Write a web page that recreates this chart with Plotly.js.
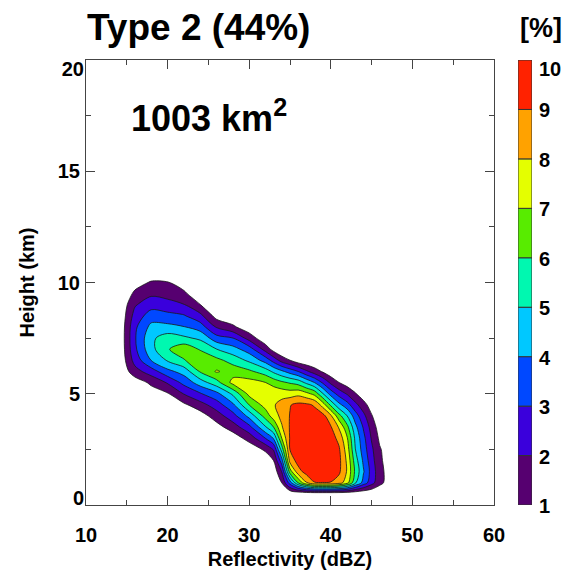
<!DOCTYPE html>
<html><head><meta charset="utf-8">
<script src="https://cdn.plot.ly/plotly-3.0.1.min.js"></script>
<style>html,body{margin:0;padding:0;background:#fff;}#chart{width:564px;height:576px;}</style>
</head><body><div id="chart"></div>
<script>
// Reflectivity bins (dBZ) and heights (km)
const dbz = [14,16,18,20,22,24,26,28,30,32,33,34,35,36,37,38,39,40,41,42,43,44,45,46,48];
const heightKm = [0.5,1,1.5,2,2.5,3,3.5,4,4.5,5,5.5,6,6.5,7,7.5,8,8.5,9,9.5,10,10.5];
// frequency (%) profiles, one per reflectivity bin, bottom (0.5 km) to top (10.5 km)
const f14 = [0,0,0,0,0,0,0,0,0,0,0,0,0,0,0,0,0,0,0,0,0];
const f16 = [0,0,0,0,0,0,0,0,0,0,0.4,1.6,2.4,2.8,2.9,2.8,2.4,1.9,1.2,0.6,0];
const f18 = [0,0,0,0,0,0,0,0,0,0.5,1.2,2.5,4.02,4.7,4.8,4.3,3.5,2.6,1.8,1.1,0.3];
const f20 = [0,0,0,0,0,0,0,0,0.2,0.9,2.1,3.7,5.1,5.9,5.5,4.3,3.3,2.4,1.6,1.05,0.4];
const f22 = [0,0,0,0,0,0,0,0.1,0.8,2.05,3.3,4.4,5.9,6.7,5.2,4.05,3.1,2.05,1.2,0.5,0];
const f24 = [0,0,0,0,0,0,0,0.5,1.6,2.9,4.5,6.1,6.9,5.9,4.8,3.5,2.3,1.02,0.2,0,0];
const f26 = [0,0,0,0,0,0,0.6,1.5,2.5,3.7,5.6,7.1,6.3,5.02,3.4,1.9,0.6,0,0,0,0];
const f28 = [0,0,0,0,0,0.4,1.5,2.6,3.8,5.2,7.3,6.6,5.6,4.4,3.02,1.2,0.2,0,0,0,0];
const f30 = [0,0,0,0,0.3,1.4,2.7,4.3,6.02,7.3,7.4,6.2,4.8,3.5,1.6,0.3,0,0,0,0,0];
const f32 = [0,0,0,0.3,1.2,3.02,4.9,6.4,7.4,7.8,7.02,5.5,3.6,1.6,0.2,0,0,0,0,0,0];
const f33 = [0,0,0.3,1.02,2.1,4.1,6.02,7.5,7.9,7.7,6.6,4.8,2.6,0.6,0,0,0,0,0,0,0];
const f34 = [0,1.02,2.05,3.6,5.5,7.02,7.9,8.3,8.4,7.6,6.2,4.2,1.6,0,0,0,0,0,0,0,0];
const f35 = [0,3.5,6.5,8.4,9.05,9.1,9.1,9.05,8.95,7.5,5.9,3.6,1.02,0,0,0,0,0,0,0,0];
const f36 = [0,6.02,8.6,9.4,9.6,9.7,9.7,9.6,9.25,7.7,5.6,3.02,0.4,0,0,0,0,0,0,0,0];
const f37 = [0,7.9,9.4,9.7,9.8,9.8,9.7,9.6,9.2,7.3,4.8,2.2,0.15,0,0,0,0,0,0,0,0];
const f38 = [0,8.95,9.7,9.8,9.8,9.8,9.7,9.4,8.9,6.7,4.02,1.5,0,0,0,0,0,0,0,0,0];
const f39 = [0,8.98,9.7,9.8,9.8,9.7,9.6,9.4,7.6,5.1,2.9,0.9,0,0,0,0,0,0,0,0,0];
const f40 = [0,8.95,9.6,9.7,9.7,9.5,9.1,8.2,5.8,3.6,1.8,0.3,0,0,0,0,0,0,0,0,0];
const f41 = [0,8.5,9.2,9.3,9.15,8.7,7.9,6.4,4.3,2.6,1.02,0.1,0,0,0,0,0,0,0,0,0];
const f42 = [0,7.4,7.9,7.8,7.5,7.1,6.3,5.02,3.4,1.9,0.5,0,0,0,0,0,0,0,0,0,0];
const f43 = [0,5.2,5.8,5.5,5.02,4.8,4.3,3.5,2.3,1.1,0.1,0,0,0,0,0,0,0,0,0,0];
const f44 = [0,3.6,4.1,3.8,3.5,3.3,2.9,2.3,1.4,0.4,0,0,0,0,0,0,0,0,0,0,0];
const f45 = [0,2.4,2.6,2.4,2.2,1.9,1.6,1.1,0.5,0,0,0,0,0,0,0,0,0,0,0,0];
const f46 = [0,1.3,1.35,1.2,1.1,0.8,0.5,0.15,0,0,0,0,0,0,0,0,0,0,0,0,0];
const f48 = [0,0,0,0,0,0,0,0,0,0,0,0,0,0,0,0,0,0,0,0,0];
// contour levels (%) and band colours
const levels = [1,2,3,4,5,6,7,8,9,10];
const bandColors = ['#560070','#3a00dc','#0048ff','#00c8ff','#00f8b0','#58ec00','#e4ff00','#ffa200','#ff2200'];
const xTicks = [10,20,30,40,50,60];
const yTicks = [5,10,15];
const yTop = [20];
const yBottom = [0];
const cbTicks = [1,2,3,4,5,6,7,8,9];
const cbTop = [10];

const cols = [f14,f16,f18,f20,f22,f24,f26,f28,f30,f32,f33,f34,f35,f36,f37,f38,f39,f40,f41,f42,f43,f44,f45,f46,f48];
const z = heightKm.map((h, i) => cols.map(c => c[i]));

const FONT = 'Liberation Sans, Arial, Helvetica, sans-serif';
const bold = (s) => ({family: FONT, size: s, color: '#000', weight: 700});

const L = 86, R = 30, T = 60, B = 71, W = 564, H = 576;
const pw = W - L - R;
const mainRight = (494 - L) / pw;
const cb0 = (518 - L) / pw, cb1 = (532 - L) / pw;

const colorscale = [[0, '#ffffff']].concat(bandColors.map((c, i) => [(i + 1) / 9, c]));

const traces = [
  {
    type: 'contour', x: dbz, y: heightKm, z: z,
    contours: {start: levels[0], end: levels[8], size: 1, coloring: 'fill', showlines: true},
    colorscale: colorscale, showscale: false,
    line: {color: '#1a1a1a', width: 0.8, smoothing: 0.9},
    hoverinfo: 'skip'
  },
  {
    type: 'bar', xaxis: 'x2', yaxis: 'y2',
    x: levels.slice(0, 9).map(() => 0),
    y: levels.slice(0, 9).map((v, i) => levels[i + 1] - v),
    base: levels.slice(0, 9),
    width: 1,
    marker: {color: bandColors, line: {color: '#333', width: 1}},
    hoverinfo: 'skip', showlegend: false
  },
  {type: 'scatter', x: [], y: [], xaxis: 'x', yaxis: 'y3', hoverinfo: 'skip', showlegend: false},
  {type: 'scatter', x: [], y: [], xaxis: 'x', yaxis: 'y4', hoverinfo: 'skip', showlegend: false},
  {type: 'scatter', x: [], y: [], xaxis: 'x2', yaxis: 'y5', hoverinfo: 'skip', showlegend: false}
];

const axLine = {showline: true, linecolor: '#444', linewidth: 1, showgrid: false, zeroline: false};
const labelAxis = (extra) => Object.assign({ticks: '', showline: false, showgrid: false, zeroline: false,
  tickmode: 'array', tickfont: bold(20)}, extra);

const layout = {
  width: W, height: H,
  margin: {l: L, r: R, t: T, b: B, pad: 0},
  paper_bgcolor: '#fff', plot_bgcolor: '#fff',
  showlegend: false, barmode: 'overlay',
  title: {text: 'Type 2 (44%)', font: bold(37), x: 87 / W, xanchor: 'left', xref: 'container',
          y: 1 - 27 / H, yanchor: 'middle', yref: 'container'},
  xaxis: Object.assign({}, axLine, {
    domain: [0, mainRight], range: [10, 60], tickmode: 'array', tickvals: xTicks,
    ticks: 'inside', ticklen: 9, tickwidth: 1, tickcolor: '#444', mirror: 'ticks',
    minor: {dtick: 5, ticks: 'inside', ticklen: 5, tickcolor: '#444'},
    tickfont: bold(20), ticklabelstandoff: 12,
    title: {text: 'Reflectivity (dBZ)', font: bold(20), standoff: 6}
  }),
  yaxis: Object.assign({}, axLine, {
    domain: [0, 1], range: [0, 20], tickmode: 'array', tickvals: yTicks,
    ticks: 'inside', ticklen: 9, tickwidth: 1, tickcolor: '#444', mirror: 'ticks',
    minor: {dtick: 2.5, ticks: 'inside', ticklen: 5, tickcolor: '#444'},
    tickfont: bold(20), ticklabelstandoff: 1,
    title: {text: 'Height (km)', font: bold(20), standoff: 17}
  }),
  yaxis3: labelAxis({overlaying: 'y', anchor: 'x', side: 'left', range: [0, 20], tickvals: yTop,
    ticklabelstandoff: 1, ticklabelshift: 9}),
  yaxis4: labelAxis({overlaying: 'y', anchor: 'x', side: 'left', range: [0, 20], tickvals: yBottom,
    ticklabelstandoff: 1, ticklabelshift: -7}),
  xaxis2: {domain: [cb0, cb1], anchor: 'y2', range: [-0.5, 0.5], visible: false, fixedrange: true},
  yaxis2: labelAxis({domain: [0, 1], anchor: 'x2', side: 'right', range: [1, 10], tickvals: cbTicks,
    ticklabelstandoff: 6, ticklabelshift: 1}),
  yaxis5: labelAxis({overlaying: 'y2', anchor: 'x2', side: 'right', range: [1, 10], tickvals: cbTop,
    ticklabelstandoff: 6, ticklabelshift: 9}),
  annotations: [
    {text: '1003 km<sup>2</sup>', xref: 'paper', yref: 'paper', x: (129 - L) / pw, y: (505 - 116) / 445,
     xanchor: 'left', yanchor: 'middle', showarrow: false, font: bold(36)},
    {text: '[%]', xref: 'paper', yref: 'paper', x: (541 - L) / pw, y: (505 - 28) / 445,
     xanchor: 'center', yanchor: 'middle', showarrow: false, font: bold(27)}
  ]
};

Plotly.newPlot('chart', traces, layout, {staticPlot: true, displayModeBar: false});
</script>
</body></html>
